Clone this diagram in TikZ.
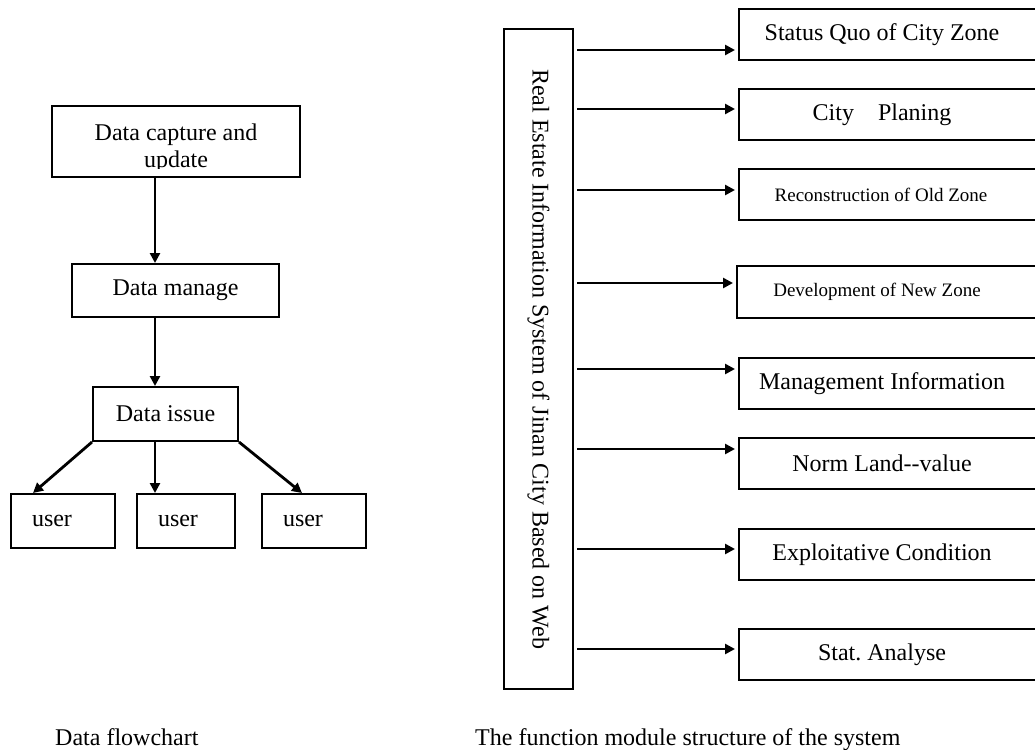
\documentclass[tikz,border=0pt]{standalone}
\usepackage{fontspec}
\setmainfont{Liberation Serif}
\usetikzlibrary{arrows.meta, positioning}

\tikzset{
  flowbox/.style={draw, line width=2pt, rectangle, inner sep=0pt},
  userbox/.style={flowbox, minimum height=54pt, inner xsep=21pt, align=left},
  modbox/.style={flowbox, anchor=west, minimum width=307pt, minimum height=51pt},
  flowarrow/.style={line width=2.8pt, -{Triangle[length=10pt,width=10pt]}},
}
\newcommand{\smalltext}{\fontsize{19}{22}\selectfont}
\frenchspacing

\begin{document}
\begin{tikzpicture}[x=1pt, y=-1pt, font=\fontsize{24}{27}\selectfont]
    \useasboundingbox (0,0) rectangle (1035,749);

    % Data flowchart
    \node[flowbox, minimum width=248pt, minimum height=71pt] (capture) at (176,141.5) {};
    \begin{scope}
      \clip (capture.north west) rectangle ([yshift=10pt]capture.south east);
      \node[align=center, inner sep=0pt] (capture-text) at (176,148) {Data capture and\\update};
    \end{scope}
    \node[flowbox, minimum width=207pt, minimum height=53pt] (manage) at (175.5,290.5) {Data manage};
    \node[flowbox, minimum width=145pt, minimum height=54pt] (issue) at (165.5,414) {Data issue};

    % Users
    \node[userbox, text width=62pt, anchor=north west] (user1) at (10,493) {user};
    \node[userbox, text width=55.5pt, right=20pt of user1] (user2) {user};
    \node[userbox, text width=62pt, right=25.5pt of user2] (user3) {user};

    \coordinate (spine) at (155,0);
    \draw[flowarrow] (capture.south -| spine) -- (manage.north -| spine);
    \draw[flowarrow] (manage.south -| spine) -- (issue.north -| spine);
    \draw[flowarrow] (issue.south west) -- ([xshift=23pt]user1.north west);
    \draw[flowarrow] (issue.south -| spine) -- (user2.north -| spine);
    \draw[flowarrow] (issue.south east) -- ([xshift=41pt]user3.north west);

    % System
    \node[flowbox, rotate=-90, minimum width=660pt, minimum height=69pt] (sys) at (538.5,359)
      {Real Estate Information System of Jinan City Based on Web};

    % Modules
    \node[modbox, label={[xshift=-10.5pt]center:Status Quo of City Zone}] (quo) at (738,34.5) {};
    \node[modbox, label={[xshift=-10.5pt]center:City\hspace{1em}Planing}] (plan) at (738,114.5) {};
    \node[modbox, label={[xshift=-11.5pt, font=\smalltext]center:Reconstruction of Old Zone}] (old) at (738,194.5) {};
    \node[modbox, minimum height=52pt, label={[xshift=-13.5pt, font=\smalltext]center:Development of New Zone}] (new) at (736,292) {};
    \node[modbox, label={[xshift=-10.5pt]center:Management Information}] (mgmt) at (738,383.5) {};
    \node[modbox, label={[xshift=-10.5pt]center:Norm Land-{}-value}] (land) at (738,463.5) {};
    \node[modbox, label={[xshift=-10.5pt]center:Exploitative Condition}] (cond) at (738,554.5) {};
    \node[modbox, label={[xshift=-10.5pt]center:Stat. Analyse}] (stat) at (738,654.5) {};

    \foreach \m/\y in {quo/50, plan/109, old/190, new/283, mgmt/369, land/449, cond/549, stat/649}
      \draw[flowarrow] ([xshift=3pt]sys.north |- 0,\y) -- ([xshift=-3pt]\m.west |- 0,\y);

    % Captions
    \node[anchor=base west, inner sep=0pt] (cap-left) at (55,745) {Data flowchart};
    \node[anchor=base west, inner sep=0pt] (cap-right) at (475,745) {The function module structure of the system};
\end{tikzpicture}
\end{document}
